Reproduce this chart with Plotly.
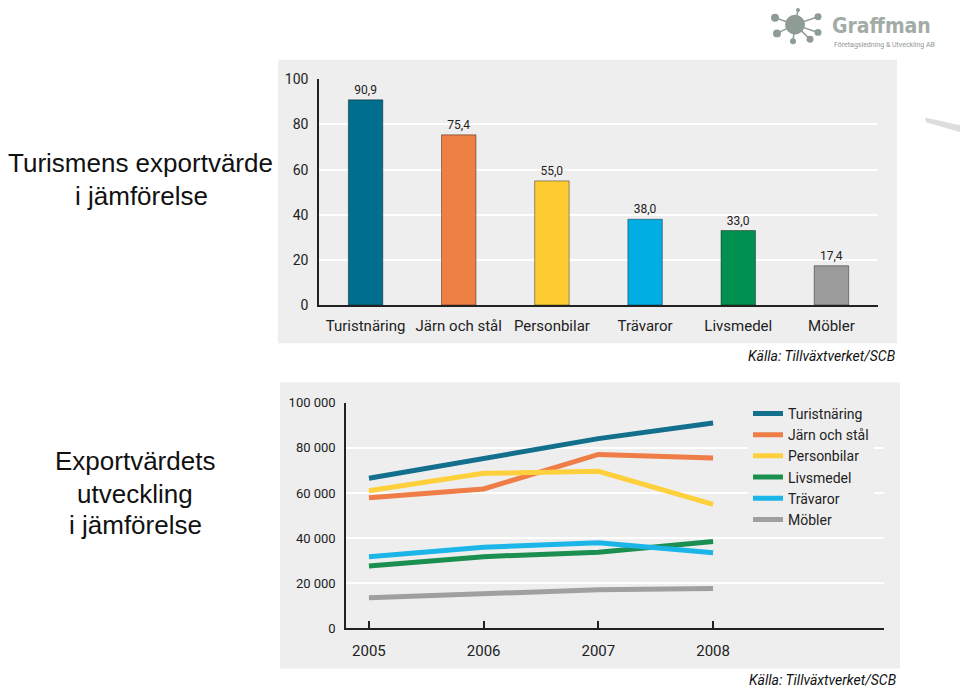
import plotly.graph_objects as go

W, H = 960, 697


def px(x):
    return x / W


def py(y):
    return 1 - y / H


# ---------------- data ----------------
bar_categories = ["Turistnäring", "Järn och stål", "Personbilar", "Trävaror", "Livsmedel", "Möbler"]
bar_values = [90.9, 75.4, 55.0, 38.0, 33.0, 17.4]
bar_colors = ["#006F8E", "#EE7F45", "#FDCB32", "#00AEE4", "#00904F", "#9B9B9B"]
bar_ticks = [0, 20, 40, 60, 80, 100]

years = [2005, 2006, 2007, 2008]
line_names = ["Turistnäring", "Järn och stål", "Personbilar", "Livsmedel", "Trävaror", "Möbler"]
turistnaring = [66500, 75200, 84100, 91000]
jarn_och_stal = [57900, 61800, 77100, 75500]
personbilar = [61000, 68700, 69600, 55000]
livsmedel = [27700, 31800, 33800, 38500]
travaror = [31800, 36000, 38000, 33500]
mobler = [13600, 15300, 17100, 17700]
line_values = [turistnaring, jarn_och_stal, personbilar, livsmedel, travaror, mobler]
line_colors = ["#13708D", "#EE7D48", "#FDD03C", "#1A8F4F", "#1CB5E8", "#A0A0A0"]
line_ticks = [0, 20000, 40000, 60000, 80000, 100000]

FONT = "Liberation Sans Narrow, Arial Narrow, Roboto, sans-serif"
PANEL = "#EEEEEE"
AXIS = "#222222"

fig = go.Figure()

# bar chart
fig.add_trace(go.Bar(
    x=bar_categories, y=bar_values,
    marker=dict(color=bar_colors, line=dict(color="rgba(0,0,0,0.4)", width=1)),
    width=0.37,
    texttemplate="%{y:.1f}", textposition="outside",
    textfont=dict(family=FONT, size=12, color="#222"),
    cliponaxis=False,
    showlegend=False,
    xaxis="x", yaxis="y",
))

# line chart
for name, vals, col in zip(line_names, line_values, line_colors):
    fig.add_trace(go.Scatter(
        x=years, y=vals, name=name, mode="lines",
        line=dict(color=col, width=5),
        xaxis="x2", yaxis="y2",
    ))

shapes = [
    dict(type="rect", xref="paper", yref="paper", x0=px(278), x1=px(897), y0=py(343), y1=py(53),
         fillcolor=PANEL, line=dict(width=0), layer="below"),
    dict(type="rect", xref="paper", yref="paper", x0=px(280), x1=px(900), y0=py(676), y1=py(383),
         fillcolor=PANEL, line=dict(width=0), layer="below"),
    # swoosh at right edge
    dict(type="path", xref="paper", yref="paper",
         path=f"M {px(925)} {py(112)} L {px(960)} {py(120)} L {px(960)} {py(127)} L {px(926)} {py(117)} Z",
         fillcolor="#DDDDDD", line=dict(width=0)),
]

# logo icon
LOGO = "#8E9C95"
cx, cy = 795, 17
sats = [(775, 10, 4), (777, 26, 4), (793, 34, 3), (810, 32, 3.5), (818, 25, 3.5), (818, 9, 3.5), (798, 2, 2)]
for sx, sy, r in sats:
    shapes.append(dict(type="line", xref="paper", yref="paper", x0=px(cx), y0=py(cy), x1=px(sx), y1=py(sy),
                       line=dict(color=LOGO, width=1.5)))
for sx, sy, r in sats:
    shapes.append(dict(type="circle", xref="paper", yref="paper", x0=px(sx - r), x1=px(sx + r),
                       y0=py(sy + r), y1=py(sy - r), fillcolor=LOGO, line=dict(width=0)))
shapes.append(dict(type="circle", xref="paper", yref="paper", x0=px(cx - 10), x1=px(cx + 10),
                   y0=py(cy + 10), y1=py(cy - 10), fillcolor=LOGO, line=dict(width=0)))

TITLE_FONT = dict(family="Liberation Sans, Arial, sans-serif", size=26, color="#111")


def title(text, x, y):
    return dict(text=text, xref="paper", yref="paper", x=px(x), y=py(y), xanchor="center", yanchor="middle",
                showarrow=False, font=TITLE_FONT)


annotations = [
    title("Turismens exportvärde", 140, 159),
    title("i jämförelse", 141, 192),
    title("Exportvärdets", 135, 464),
    title("utveckling", 135, 497),
    title("i jämförelse", 135, 529),
    dict(text="<i>Källa: Tillväxtverket/SCB</i>", xref="paper", yref="paper", x=px(898), y=py(356),
         xanchor="right", yanchor="middle", showarrow=False,
         font=dict(family=FONT, size=14, color="#111")),
    dict(text="<i>Källa: Tillväxtverket/SCB</i>", xref="paper", yref="paper", x=px(899), y=py(688),
         xanchor="right", yanchor="middle", showarrow=False,
         font=dict(family=FONT, size=14, color="#111")),
    dict(text="<b>Graffman</b>", xref="paper", yref="paper", x=px(830), y=py(18),
         xanchor="left", yanchor="middle", showarrow=False,
         font=dict(family="DejaVu Sans Condensed, " + FONT, size=21, color="#A3ABA7")),
    dict(text="Företagsledning & Utveckling AB", xref="paper", yref="paper", x=px(832), y=py(38),
         xanchor="left", yanchor="middle", showarrow=False,
         font=dict(family=FONT, size=7, color="#8F9893")),
]

fig.update_layout(
    width=W, height=H,
    margin=dict(l=0, r=0, t=0, b=0),
    paper_bgcolor="white", plot_bgcolor="rgba(0,0,0,0)",
    separators=", ",
    font=dict(family=FONT, color="#222"),
    shapes=shapes, annotations=annotations,
    xaxis=dict(domain=[px(319), px(878)], anchor="y", range=[-0.5, 5.5],
               showline=True, linecolor=AXIS, linewidth=2, showgrid=False,
               tickfont=dict(family=FONT, size=15, color="#222"), ticklabelstandoff=6),
    yaxis=dict(domain=[py(304), py(73)], anchor="x", range=[0, 100], tickvals=bar_ticks,
               showline=True, linecolor=AXIS, linewidth=1.5, showgrid=True, gridcolor="white", gridwidth=2,
               zeroline=False, tickfont=dict(family=FONT, size=14, color="#222"), ticklabelstandoff=6),
    xaxis2=dict(domain=[px(346), px(884)], anchor="y2", range=[2004.8, 2009.49], tickvals=years,
                showline=True, linecolor=AXIS, linewidth=2, showgrid=False,
                ticks="inside", ticklen=7, tickwidth=1.5, tickcolor=AXIS,
                tickfont=dict(family=FONT, size=15, color="#222"), ticklabelstandoff=8),
    yaxis2=dict(domain=[py(635), py(404)], anchor="x2", range=[0, 100000], tickvals=line_ticks,
                tickformat=",d",
                showline=True, linecolor=AXIS, linewidth=1.5, showgrid=True, gridcolor="white", gridwidth=2,
                zeroline=False, tickfont=dict(family=FONT, size=13, color="#222"), ticklabelstandoff=6),
    legend=dict(x=px(748), y=py(399), xanchor="left", yanchor="top", bgcolor=PANEL,
                font=dict(family=FONT, size=14, color="#222"), borderwidth=0),
)

fig.write_html("out.html", config={"displayModeBar": False},
               post_script="document.body.style.margin='0';document.body.style.overflow='hidden';")
